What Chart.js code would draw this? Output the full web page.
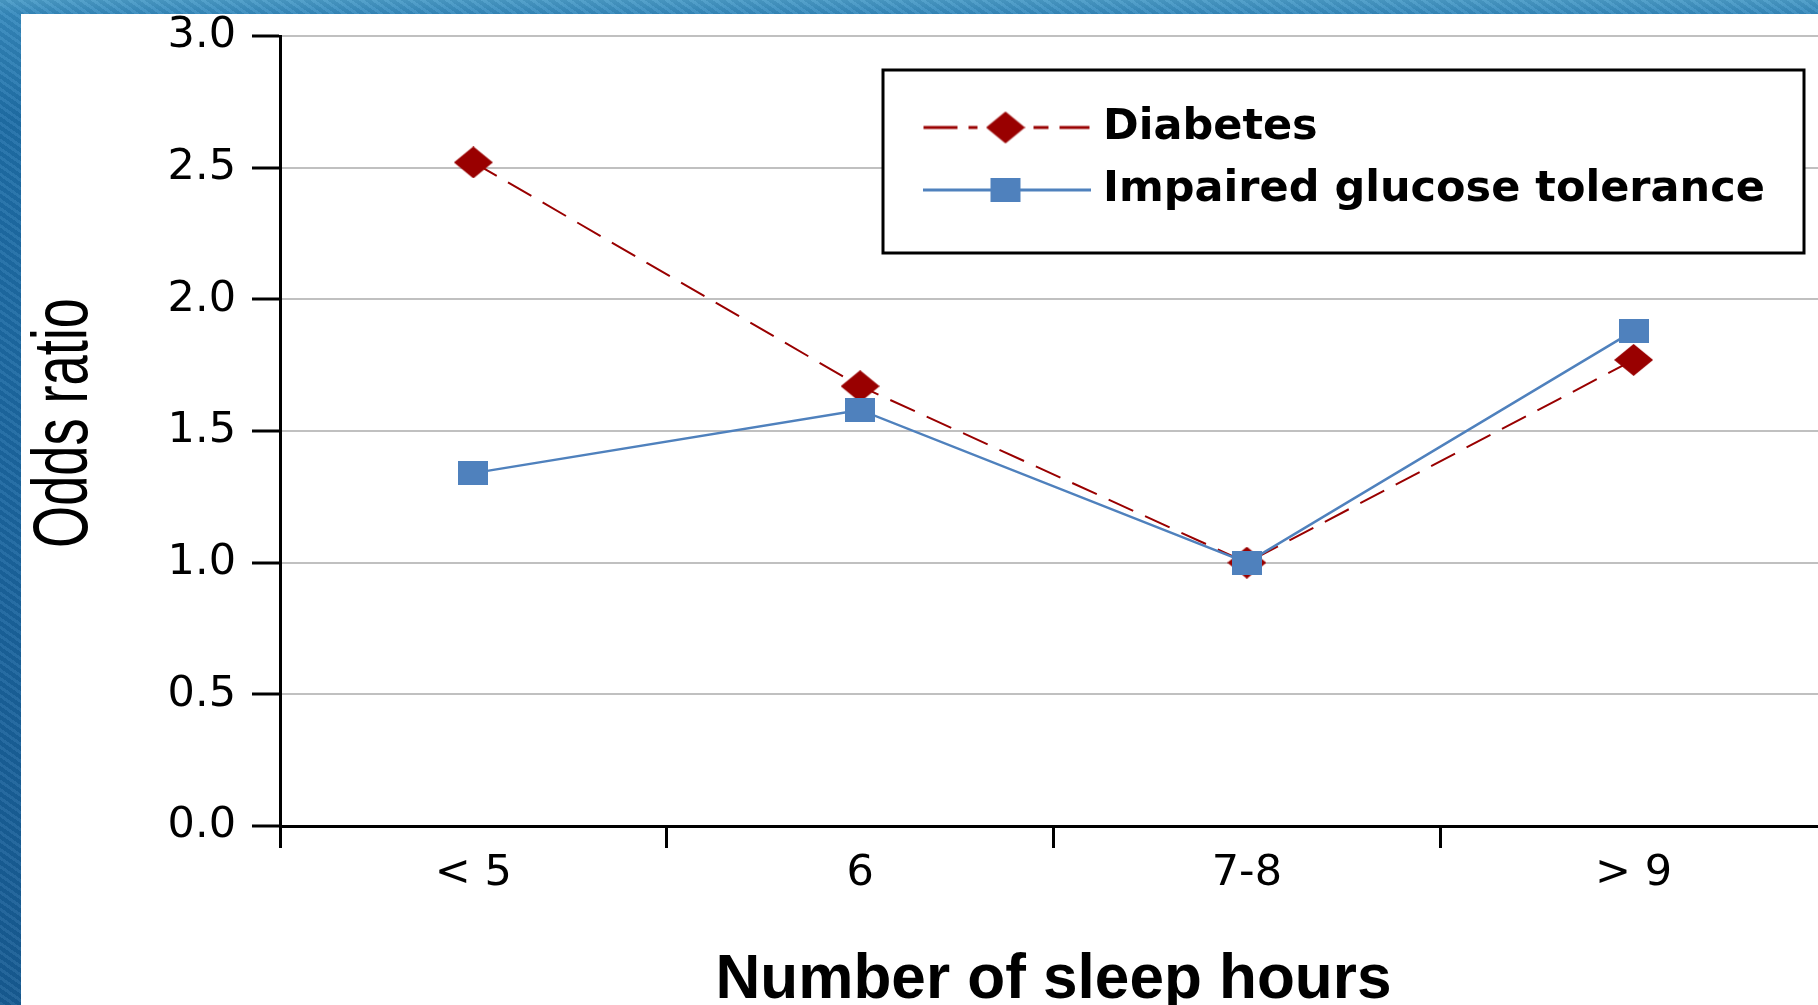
<!DOCTYPE html>
<html>
<head>
<meta charset="utf-8">
<script src="https://cdn.jsdelivr.net/npm/chart.js@4.4.1/dist/chart.umd.min.js"></script>
<style>
  html, body { margin: 0; padding: 0; }
  body {
    width: 1818px; height: 1005px; overflow: hidden; position: relative;
    background:
      repeating-linear-gradient(35deg, rgba(255,255,255,0.06) 0 3px, rgba(0,0,0,0.05) 3px 7px),
      linear-gradient(to bottom, #4a9cc8 0px, #3589bd 14px, #1f6fa8 120px, #1b66a0 500px, #175c94 1005px);
  }
  #wrap { position: absolute; left: 21px; top: 14px; width: 1824px; height: 991px; background: #fff; }
  canvas { display: block; }
</style>
</head>
<body>
<div id="wrap"><canvas id="c" width="1824" height="991"></canvas></div>
<script>
// ---- data ----
const categories = ['< 5', '6', '7-8', '> 9'];
const diabetes = [2.52, 1.67, 1.00, 1.77];
const igt = [1.34, 1.58, 1.00, 1.88];
const yTicks = [0, 0.5, 1.0, 1.5, 2.0, 2.5, 3.0];
const seriesNames = ['Diabetes', 'Impaired glucose tolerance'];
const xTitle = 'Number of sleep hours';
const yTitle = 'Odds ratio';

const RED = '#990000';
const BLUE = '#4F81BD';

function fitSize(text, weight, family, target) {
  const c = document.createElement('canvas').getContext('2d');
  c.font = weight + ' 100px ' + family;
  return 100 * target / c.measureText(text).width;
}

function makeDiamond() {
  const c = document.createElement('canvas'); c.width = 39; c.height = 32;
  const g = c.getContext('2d');
  g.fillStyle = RED; g.beginPath();
  g.moveTo(19.5, 0); g.lineTo(39, 16); g.lineTo(19.5, 32); g.lineTo(0, 16); g.closePath(); g.fill();
  return c;
}
function makeSquare() {
  const c = document.createElement('canvas'); c.width = 30; c.height = 24;
  const g = c.getContext('2d'); g.fillStyle = BLUE; g.fillRect(0, 0, 30, 24);
  return c;
}
const diamond = makeDiamond();
const square = makeSquare();

function legendSymbol(kind) {
  const c = document.createElement('canvas'); c.width = 168; c.height = 40;
  const g = c.getContext('2d');
  g.lineWidth = 3;
  if (kind === 0) {
    g.strokeStyle = RED;
    [[1, 35], [46, 55], [111, 126], [137, 167]].forEach(([a, b]) => {
      g.beginPath(); g.moveTo(a, 20); g.lineTo(b, 20); g.stroke();
    });
    g.drawImage(diamond, 83 - 19.5, 20 - 16);
  } else {
    g.strokeStyle = BLUE;
    g.beginPath(); g.moveTo(0, 20); g.lineTo(168, 20); g.stroke();
    g.drawImage(square, 83 - 15, 20 - 12);
  }
  return c;
}
const legendImgs = [legendSymbol(0), legendSymbol(1)];

const yFamily = "'Liberation Sans', Arial, sans-serif";
const ySize = fitSize(yTitle, 'normal', yFamily, 250);
const yStretch = 57 / (0.729 * ySize);
const yMid = 44.5;
const xFamily = "'Liberation Sans', Arial, sans-serif";
const xSize = fitSize(xTitle, 'bold', xFamily, 676);

const legendBoxPlugin = {
  id: 'legendBox',
  afterLayout(chart) {
    const lg = chart.legend;
    if (lg) {
      const w = lg.width, h = lg.height;
      lg.left = 891; lg.top = 72.5; lg.right = lg.left + w; lg.bottom = lg.top + h;
      if (!lg._boxWrapped) {
        const orig = lg.draw;
        lg.draw = function () {
          const ctx = chart.ctx;
          ctx.save();
          ctx.fillStyle = '#fff';
          ctx.fillRect(862, 56, 921, 183);
          ctx.strokeStyle = '#000';
          ctx.lineWidth = 3;
          ctx.strokeRect(862, 56, 921, 183);
          ctx.restore();
          return orig.apply(this, arguments);
        };
        lg._boxWrapped = true;
      }
    }
    const s = chart.scales.y;
    if (s && !s._stretched) {
      const origT = s.drawTitle;
      s.drawTitle = function () {
        const ctx = this.ctx;
        ctx.save();
        ctx.translate(yMid, -8);
        ctx.scale(yStretch, 1);
        ctx.translate(-yMid, 0);
        origT.call(this);
        ctx.restore();
      };
      s._stretched = true;
    }
  }
};

new Chart(document.getElementById('c'), {
  type: 'line',
  data: {
    labels: categories,
    datasets: [
      {
        label: seriesNames[0], data: diabetes, order: 1,
        borderColor: RED, backgroundColor: RED, borderWidth: 2,
        borderDash: [27, 13], pointStyle: diamond, pointRadius: 16, tension: 0, fill: false
      },
      {
        label: seriesNames[1], data: igt, order: 0,
        borderColor: BLUE, backgroundColor: BLUE, borderWidth: 2.5,
        pointStyle: square, pointRadius: 14, tension: 0, fill: false
      }
    ]
  },
  options: {
    responsive: false,
    animation: false,
    devicePixelRatio: 1,
    layout: { padding: { top: 22, right: 0, left: 0, bottom: 0 } },
    plugins: {
      tooltip: { enabled: false },
      legend: {
        position: 'chartArea',
        align: 'start',
        labels: {
          usePointStyle: true,
          pointStyleWidth: 150,
          padding: 19.5,
          color: '#000',
          font: { family: "'DejaVu Sans', sans-serif", weight: 'bold', size: 43, lineHeight: 1 },
          sort: (a, b) => a.datasetIndex - b.datasetIndex,
          generateLabels(chart) {
            const items = Chart.defaults.plugins.legend.labels.generateLabels(chart);
            items.forEach(it => { it.pointStyle = legendImgs[it.datasetIndex]; });
            return items;
          }
        }
      }
    },
    scales: {
      x: {
        type: 'category',
        offset: true,
        afterFit(s) { s.height = 179; s.paddingLeft = 0; s.paddingRight = 0; },
        grid: { drawOnChartArea: false, offset: true, tickLength: 22, tickColor: '#000', tickWidth: 3, color: '#000' },
        border: { color: '#000', width: 3 },
        ticks: { color: '#000', padding: 4, font: { family: "'DejaVu Sans', sans-serif", size: 43, lineHeight: 1 } },
        title: {
          display: true, text: xTitle, color: '#000',
          font: { family: xFamily, weight: 'bold', size: xSize, lineHeight: 0.8 },
          padding: { top: 0, bottom: 24.5 - 0.4 * xSize }
        }
      },
      y: {
        min: 0, max: 3,
        afterFit(s) { s.width = 259; s.paddingTop = 0; s.paddingBottom = 0; },
        afterBuildTicks(s) { s.ticks = yTicks.map(v => ({ value: v })); },
        grid: { color: '#C0C0C0', lineWidth: 2, tickLength: 28, tickColor: '#000', tickWidth: 3 },
        border: { color: '#000', width: 3 },
        ticks: {
          color: '#000', padding: 16,
          font: { family: "'DejaVu Sans', sans-serif", size: 43, lineHeight: 1 },
          callback: (v) => Number(v).toFixed(1)
        },
        title: {
          display: true, text: yTitle, color: '#000',
          font: { family: yFamily, weight: 'normal', size: ySize, lineHeight: 1 },
          padding: { top: yMid - ySize / 2, bottom: 0 }
        }
      }
    }
  },
  plugins: [legendBoxPlugin]
});
</script>
</body>
</html>
